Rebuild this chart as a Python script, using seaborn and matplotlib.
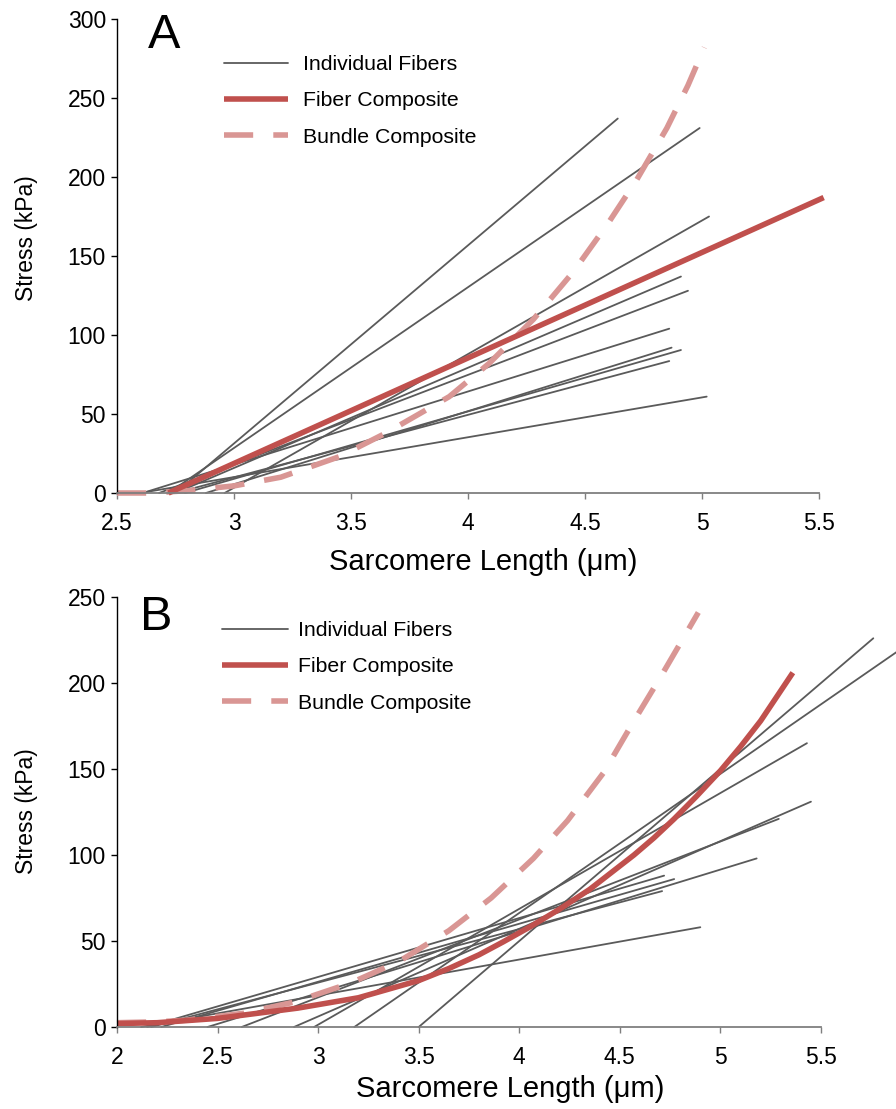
import numpy as np
import pandas as pd
import matplotlib
matplotlib.use('Agg')
import matplotlib.pyplot as plt
import seaborn as sns
from matplotlib.lines import Line2D

# ---------------- Panel A data ----------------
a_fiber_start = [2.75, 2.72, 2.96, 2.75, 2.68, 2.61, 2.88, 2.79, 2.75, 2.60]
a_fiber_end_x = [4.64, 4.99, 5.03, 4.91, 4.94, 4.86, 4.87, 4.91, 4.86, 5.02]
a_fiber_end_y = [237, 231, 175, 137, 128, 104, 92, 90.5, 83.5, 61]

a_comp_x = [2.72, 5.52]
a_comp_y = [0, 187]

a_bund_x = [2.5, 2.65, 2.8, 3.0, 3.2, 3.45, 3.65, 3.92, 4.09, 4.28, 4.45, 4.6, 4.72, 4.85, 4.94, 5.01]
a_bund_y = [0, 0, 1.5, 4.5, 10, 23, 38, 61, 82, 110, 140, 171, 198, 231, 258, 282]

a_xticks = [2.5, 3, 3.5, 4, 4.5, 5, 5.5]
a_xticklabels = ['2.5', '3', '3.5', '4', '4.5', '5', '5.5']
a_yticks = [0, 50, 100, 150, 200, 250, 300]

# ---------------- Panel B data ----------------
b_fiber_start = [3.50, 3.18, 2.98, 2.88, 2.62, 2.45, 2.22, 2.15, 2.17, 2.12]
b_fiber_end_x = [5.76, 5.95, 5.43, 5.45, 5.29, 5.18, 4.77, 4.72, 4.71, 4.90]
b_fiber_end_y = [226, 224, 165, 131, 121, 98, 86, 88, 79, 58]

b_comp_x = [2.0, 2.2, 2.5, 2.7, 2.9, 3.2, 3.5, 3.65, 3.8, 3.92, 4.05, 4.2, 4.35,
            4.46, 4.57, 4.67, 4.77, 4.88, 5.0, 5.1, 5.2, 5.28, 5.36]
b_comp_y = [2, 2.5, 5, 8, 11, 17, 27, 34, 42, 49.5, 58, 68.5, 80,
            90, 100, 110, 121, 134, 149, 163, 178, 192, 206]

b_bund_x = [2.0, 2.2, 2.35, 2.63, 2.88, 3.16, 3.4, 3.65, 3.86, 4.07, 4.24, 4.42, 4.56, 4.71, 4.84, 4.89]
b_bund_y = [2.5, 3, 4, 8, 14.5, 25.5, 38, 56, 75, 98, 120, 148, 176, 205, 231, 241]

b_xticks = [2, 2.5, 3, 3.5, 4, 4.5, 5, 5.5]
b_xticklabels = ['2', '2.5', '3', '3.5', '4', '4.5', '5', '5.5']
b_yticks = [0, 50, 100, 150, 200, 250]

legend_labels = ['Individual Fibers', 'Fiber Composite', 'Bundle Composite']

# ---------------- style ----------------
sns.set_style('white')
plt.rcParams['font.family'] = ['Liberation Sans', 'DejaVu Sans']
plt.rcParams['lines.scale_dashes'] = False
for k in ['text.color', 'axes.labelcolor', 'xtick.color', 'ytick.color']:
    plt.rcParams[k] = 'black'

FIBER_C = '#5a5a5a'
COMP_C = '#C0504D'
BUND_C = '#D99694'
DASH = (0, (21, 14.5))

W, H = 896, 1109
fig = plt.figure(figsize=(W / 100, H / 100), dpi=100)
axA = fig.add_axes([117 / W, 1 - 493 / H, 702 / W, 474 / H])
axB = fig.add_axes([117 / W, 1 - 1027 / H, 704 / W, 430 / H])


def fibers_df(x0, xe, ye):
    rows = []
    for i, (s, ex, ey) in enumerate(zip(x0, xe, ye)):
        rows.append((i, s, 0.0))
        rows.append((i, ex, ey))
    return pd.DataFrame(rows, columns=['fiber', 'x', 'y'])


def draw(ax, fx0, fxe, fye, cx, cy, bx, by):
    df = fibers_df(fx0, fxe, fye)
    sns.lineplot(data=df, x='x', y='y', units='fiber', estimator=None,
                 color=FIBER_C, linewidth=1.3, ax=ax, legend=False,
                 sort=False, clip_on=False)
    sns.lineplot(x=bx, y=by, color=BUND_C, linewidth=4.0, linestyle=DASH,
                 dash_capstyle='butt', dash_joinstyle='round', ax=ax,
                 sort=False, estimator=None, clip_on=False)
    sns.lineplot(x=cx, y=cy, color=COMP_C, linewidth=4.0,
                 solid_capstyle='butt', solid_joinstyle='round', ax=ax,
                 sort=False, estimator=None, clip_on=False)


def style_axes(ax, xlim, ylim, xt, xtl, yt):
    ax.set_xlim(*xlim)
    ax.set_ylim(*ylim)
    ax.set_xticks(xt)
    ax.set_xticklabels(xtl)
    ax.set_yticks(yt)
    ax.set_yticklabels([str(v) for v in yt])
    sns.despine(ax=ax)
    ax.spines['left'].set_color('black')
    ax.spines['left'].set_linewidth(1.0)
    ax.spines['bottom'].set_color('#7f7f7f')
    ax.spines['bottom'].set_linewidth(1.3)
    ax.tick_params(axis='x', bottom=True, direction='out', length=4, width=1,
                   color='#7f7f7f', labelcolor='black', labelsize=16.5, pad=10)
    ax.tick_params(axis='y', left=True, direction='out', length=4, width=1,
                   color='black', labelcolor='black', labelsize=16.5, pad=4)
    ax.set_xlabel('Sarcomere Length (\u03bcm)', fontsize=21, color='black')
    ax.set_ylabel('Stress (kPa)', fontsize=16.5, color='black')


def add_legend(ax, left_px, top_px, hl, htp):
    handles = [Line2D([], [], color=FIBER_C, lw=1.3),
               Line2D([], [], color=COMP_C, lw=4.0, solid_capstyle='butt'),
               Line2D([], [], color=BUND_C, lw=4.0, linestyle=DASH,
                      dash_capstyle='butt')]
    leg = ax.legend(handles, legend_labels, loc='upper left',
                    bbox_to_anchor=(left_px / W, 1 - top_px / H),
                    bbox_transform=fig.transFigure, frameon=False,
                    fontsize=15.3, borderaxespad=0, borderpad=0,
                    handlelength=hl, handletextpad=htp, labelspacing=0.82)
    for t in leg.get_texts():
        t.set_color('black')


draw(axA, a_fiber_start, a_fiber_end_x, a_fiber_end_y,
     a_comp_x, a_comp_y, a_bund_x, a_bund_y)
style_axes(axA, (2.5, 5.5), (0, 300), a_xticks, a_xticklabels, a_yticks)
axA.xaxis.set_label_coords((483 - 117) / 702, -(548 - 493) / 474)
axA.yaxis.set_label_coords(-(117 - 38) / 702, (493 - 238) / 474)
add_legend(axA, 224, 55, 3.0, 0.7)

draw(axB, b_fiber_start, b_fiber_end_x, b_fiber_end_y,
     b_comp_x, b_comp_y, b_bund_x, b_bund_y)
style_axes(axB, (2.0, 5.5), (0, 250), b_xticks, b_xticklabels, b_yticks)
axB.xaxis.set_label_coords((510 - 117) / 704, -(1075 - 1027) / 430)
axB.yaxis.set_label_coords(-(117 - 38) / 704, (1027 - 811) / 430)
add_legend(axB, 222, 621, 3.1, 0.47)

fig.text(148 / W, 1 - 48 / H, 'A', fontsize=35, ha='left', va='baseline', color='black')
fig.text(140 / W, 1 - 630 / H, 'B', fontsize=35, ha='left', va='baseline', color='black')

fig.savefig('out.png', dpi=100)
